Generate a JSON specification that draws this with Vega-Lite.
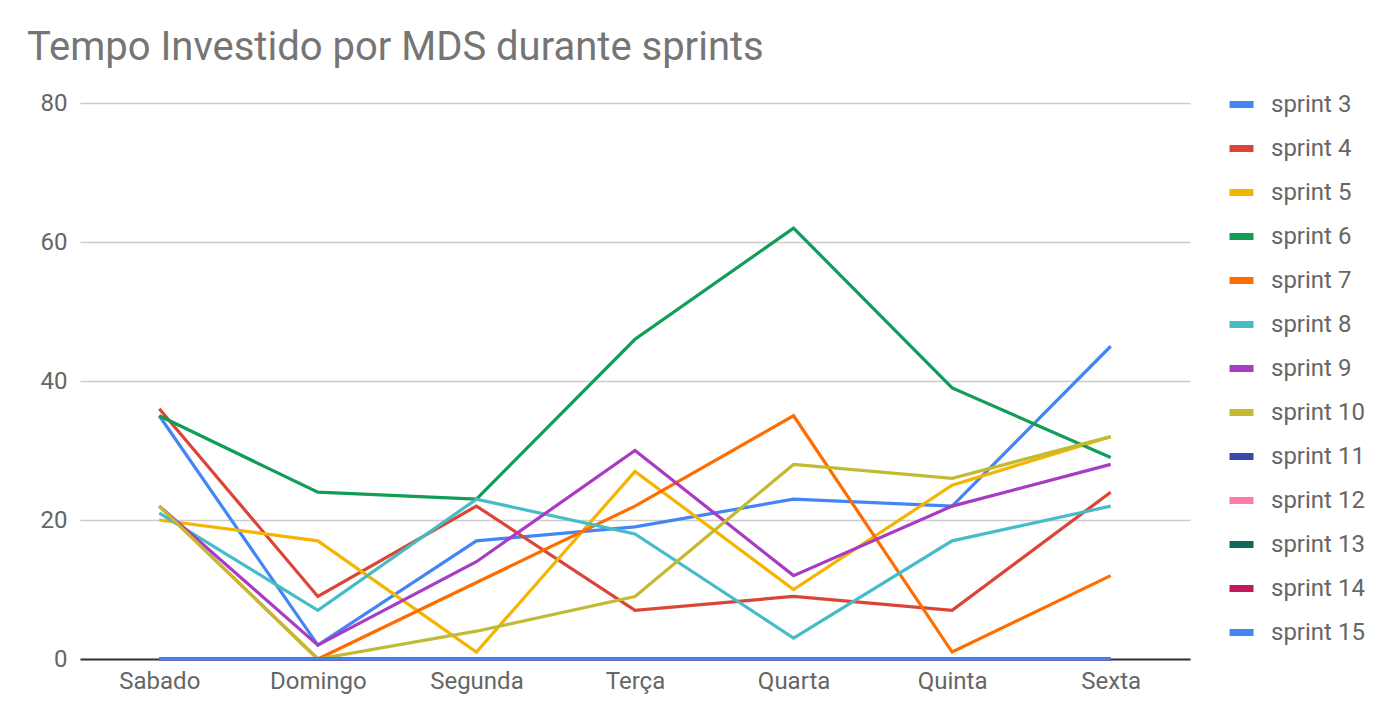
{
  "$schema": "https://vega.github.io/schema/vega-lite/v6.json",
  "autosize": "none",
  "width": 1110,
  "height": 556,
  "padding": {"left": 80, "top": 103, "right": 196, "bottom": 65},
  "background": "white",
  "title": {
    "text": "Tempo Investido por MDS durante sprints",
    "anchor": "start",
    "frame": "group",
    "fontSize": 40,
    "font": "Roboto",
    "fontWeight": "normal",
    "color": "#757575",
    "baseline": "alphabetic",
    "dx": -53,
    "dy": 41,
    "offset": 30
  },
  "config": {
    "view": {"stroke": null},
    "font": "Roboto"
  },
  "data": {
    "values": [
      {"dia": "Sabado", "sprint": "sprint 3", "valor": 35},
      {"dia": "Domingo", "sprint": "sprint 3", "valor": 2},
      {"dia": "Segunda", "sprint": "sprint 3", "valor": 17},
      {"dia": "Terça", "sprint": "sprint 3", "valor": 19},
      {"dia": "Quarta", "sprint": "sprint 3", "valor": 23},
      {"dia": "Quinta", "sprint": "sprint 3", "valor": 22},
      {"dia": "Sexta", "sprint": "sprint 3", "valor": 45},
      {"dia": "Sabado", "sprint": "sprint 4", "valor": 36},
      {"dia": "Domingo", "sprint": "sprint 4", "valor": 9},
      {"dia": "Segunda", "sprint": "sprint 4", "valor": 22},
      {"dia": "Terça", "sprint": "sprint 4", "valor": 7},
      {"dia": "Quarta", "sprint": "sprint 4", "valor": 9},
      {"dia": "Quinta", "sprint": "sprint 4", "valor": 7},
      {"dia": "Sexta", "sprint": "sprint 4", "valor": 24},
      {"dia": "Sabado", "sprint": "sprint 5", "valor": 20},
      {"dia": "Domingo", "sprint": "sprint 5", "valor": 17},
      {"dia": "Segunda", "sprint": "sprint 5", "valor": 1},
      {"dia": "Terça", "sprint": "sprint 5", "valor": 27},
      {"dia": "Quarta", "sprint": "sprint 5", "valor": 10},
      {"dia": "Quinta", "sprint": "sprint 5", "valor": 25},
      {"dia": "Sexta", "sprint": "sprint 5", "valor": 32},
      {"dia": "Sabado", "sprint": "sprint 6", "valor": 35},
      {"dia": "Domingo", "sprint": "sprint 6", "valor": 24},
      {"dia": "Segunda", "sprint": "sprint 6", "valor": 23},
      {"dia": "Terça", "sprint": "sprint 6", "valor": 46},
      {"dia": "Quarta", "sprint": "sprint 6", "valor": 62},
      {"dia": "Quinta", "sprint": "sprint 6", "valor": 39},
      {"dia": "Sexta", "sprint": "sprint 6", "valor": 29},
      {"dia": "Sabado", "sprint": "sprint 7", "valor": 22},
      {"dia": "Domingo", "sprint": "sprint 7", "valor": 0},
      {"dia": "Segunda", "sprint": "sprint 7", "valor": 11},
      {"dia": "Terça", "sprint": "sprint 7", "valor": 22},
      {"dia": "Quarta", "sprint": "sprint 7", "valor": 35},
      {"dia": "Quinta", "sprint": "sprint 7", "valor": 1},
      {"dia": "Sexta", "sprint": "sprint 7", "valor": 12},
      {"dia": "Sabado", "sprint": "sprint 8", "valor": 21},
      {"dia": "Domingo", "sprint": "sprint 8", "valor": 7},
      {"dia": "Segunda", "sprint": "sprint 8", "valor": 23},
      {"dia": "Terça", "sprint": "sprint 8", "valor": 18},
      {"dia": "Quarta", "sprint": "sprint 8", "valor": 3},
      {"dia": "Quinta", "sprint": "sprint 8", "valor": 17},
      {"dia": "Sexta", "sprint": "sprint 8", "valor": 22},
      {"dia": "Sabado", "sprint": "sprint 9", "valor": 22},
      {"dia": "Domingo", "sprint": "sprint 9", "valor": 2},
      {"dia": "Segunda", "sprint": "sprint 9", "valor": 14},
      {"dia": "Terça", "sprint": "sprint 9", "valor": 30},
      {"dia": "Quarta", "sprint": "sprint 9", "valor": 12},
      {"dia": "Quinta", "sprint": "sprint 9", "valor": 22},
      {"dia": "Sexta", "sprint": "sprint 9", "valor": 28},
      {"dia": "Sabado", "sprint": "sprint 10", "valor": 22},
      {"dia": "Domingo", "sprint": "sprint 10", "valor": 0},
      {"dia": "Segunda", "sprint": "sprint 10", "valor": 4},
      {"dia": "Terça", "sprint": "sprint 10", "valor": 9},
      {"dia": "Quarta", "sprint": "sprint 10", "valor": 28},
      {"dia": "Quinta", "sprint": "sprint 10", "valor": 26},
      {"dia": "Sexta", "sprint": "sprint 10", "valor": 32},
      {"dia": "Sabado", "sprint": "sprint 11", "valor": 0},
      {"dia": "Domingo", "sprint": "sprint 11", "valor": 0},
      {"dia": "Segunda", "sprint": "sprint 11", "valor": 0},
      {"dia": "Terça", "sprint": "sprint 11", "valor": 0},
      {"dia": "Quarta", "sprint": "sprint 11", "valor": 0},
      {"dia": "Quinta", "sprint": "sprint 11", "valor": 0},
      {"dia": "Sexta", "sprint": "sprint 11", "valor": 0},
      {"dia": "Sabado", "sprint": "sprint 12", "valor": 0},
      {"dia": "Domingo", "sprint": "sprint 12", "valor": 0},
      {"dia": "Segunda", "sprint": "sprint 12", "valor": 0},
      {"dia": "Terça", "sprint": "sprint 12", "valor": 0},
      {"dia": "Quarta", "sprint": "sprint 12", "valor": 0},
      {"dia": "Quinta", "sprint": "sprint 12", "valor": 0},
      {"dia": "Sexta", "sprint": "sprint 12", "valor": 0},
      {"dia": "Sabado", "sprint": "sprint 13", "valor": 0},
      {"dia": "Domingo", "sprint": "sprint 13", "valor": 0},
      {"dia": "Segunda", "sprint": "sprint 13", "valor": 0},
      {"dia": "Terça", "sprint": "sprint 13", "valor": 0},
      {"dia": "Quarta", "sprint": "sprint 13", "valor": 0},
      {"dia": "Quinta", "sprint": "sprint 13", "valor": 0},
      {"dia": "Sexta", "sprint": "sprint 13", "valor": 0},
      {"dia": "Sabado", "sprint": "sprint 14", "valor": 0},
      {"dia": "Domingo", "sprint": "sprint 14", "valor": 0},
      {"dia": "Segunda", "sprint": "sprint 14", "valor": 0},
      {"dia": "Terça", "sprint": "sprint 14", "valor": 0},
      {"dia": "Quarta", "sprint": "sprint 14", "valor": 0},
      {"dia": "Quinta", "sprint": "sprint 14", "valor": 0},
      {"dia": "Sexta", "sprint": "sprint 14", "valor": 0},
      {"dia": "Sabado", "sprint": "sprint 15", "valor": 0},
      {"dia": "Domingo", "sprint": "sprint 15", "valor": 0},
      {"dia": "Segunda", "sprint": "sprint 15", "valor": 0},
      {"dia": "Terça", "sprint": "sprint 15", "valor": 0},
      {"dia": "Quarta", "sprint": "sprint 15", "valor": 0},
      {"dia": "Quinta", "sprint": "sprint 15", "valor": 0},
      {"dia": "Sexta", "sprint": "sprint 15", "valor": 0}
    ]
  },
  "mark": {"type": "line", "strokeWidth": 3.2},
  "encoding": {
    "x": {
      "field": "dia",
      "type": "nominal",
      "sort": ["Sabado", "Domingo", "Segunda", "Terça", "Quarta", "Quinta", "Sexta"],
      "scale": {"type": "point", "padding": 0.5},
      "axis": {
        "title": null,
        "labelAngle": 0,
        "labelFontSize": 24,
        "labelColor": "#666666",
        "labelFont": "Roboto",
        "labelPadding": 10,
        "ticks": false,
        "grid": false,
        "domainColor": "#333333",
        "domainWidth": 2
      }
    },
    "y": {
      "field": "valor",
      "type": "quantitative",
      "scale": {"domain": [0, 80], "nice": false},
      "axis": {
        "title": null,
        "values": [0, 20, 40, 60, 80],
        "labelFontSize": 24,
        "labelColor": "#666666",
        "labelFont": "Roboto",
        "labelPadding": 13,
        "ticks": false,
        "domain": false,
        "gridColor": "#cccccc",
        "gridWidth": 1.5
      }
    },
    "color": {
      "field": "sprint",
      "type": "nominal",
      "scale": {
        "domain": ["sprint 3", "sprint 4", "sprint 5", "sprint 6", "sprint 7", "sprint 8", "sprint 9", "sprint 10", "sprint 11", "sprint 12", "sprint 13", "sprint 14", "sprint 15"],
        "range": ["#4285f4", "#db4437", "#f4b400", "#0f9d58", "#ff6d01", "#46bdc6", "#a93bc2", "#c2ba33", "#3949ab", "#ff7aaa", "#0b6b58", "#c2185b", "#4285f4"]
      },
      "legend": {
        "title": null,
        "orient": "none",
        "legendX": 1146,
        "legendY": -14,
        "padding": 0,
        "symbolType": "stroke",
        "symbolSize": 576,
        "symbolStrokeWidth": 7,
        "labelFontSize": 24,
        "labelFont": "Roboto",
        "labelColor": "#666666",
        "labelOffset": 14,
        "rowPadding": 14
      }
    }
  }
}
